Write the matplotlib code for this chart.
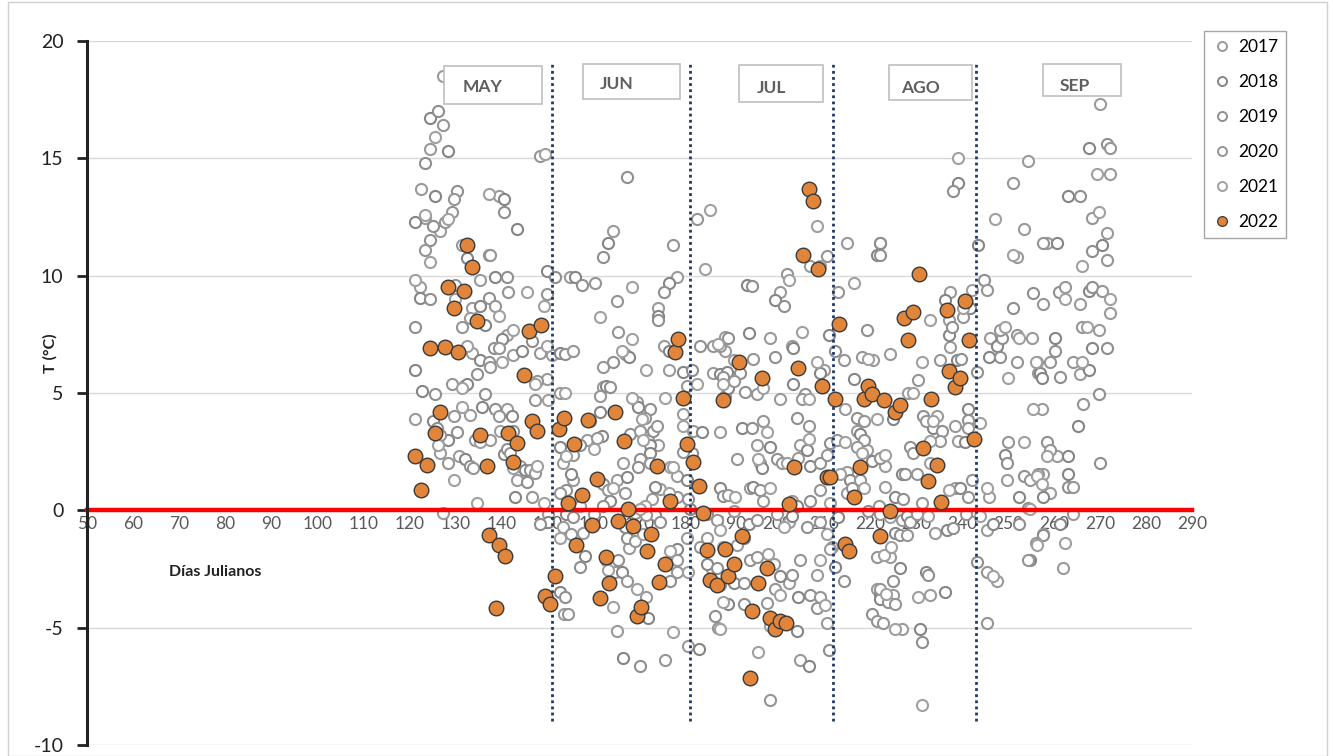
import matplotlib
matplotlib.use("Agg")
import matplotlib.pyplot as plt
from matplotlib.lines import Line2D
from matplotlib.patches import Rectangle

plt.rcParams["font.family"] = ["Lato", "DejaVu Sans"]
plt.rcParams["axes.unicode_minus"] = False

# Earlier years (2017-2021): all drawn as hollow grey circles
gray_years = ["2017", "2018", "2019", "2020", "2021"]
gray_day = [
    127.4, 124.5, 126.3, 127.4, 125.6, 124.4, 128.5, 123.4, 148.4, 149.5, 122.5, 125.6, 130.3, 129.6,
    137.2, 139.4, 140.5, 140.5, 129.2, 123.4, 123.4, 121.3, 125.2, 127.8, 128.5, 126.7, 143.4, 124.5,
    123.4, 124.5, 131.4, 132.5, 137.2, 137.6, 121.3, 122.3, 122.3, 124.5, 130.0, 130.0, 135.4, 138.7,
    141.2, 141.5, 145.5, 133.6, 135.4, 137.2, 138.7, 139.4, 133.2, 136.5, 121.3, 131.4, 142.6, 141.2,
    140.1, 138.3, 139.4, 132.5, 133.6, 135.4, 137.2, 137.6, 140.1, 142.6, 144.4, 146.6, 148.4, 149.9,
    151.0, 121.3, 134.7, 147.7, 147.3, 149.9, 122.7, 125.6, 129.2, 131.4, 131.8, 132.5, 136.5, 147.3,
    150.2, 121.3, 125.2, 126.0, 126.7, 126.3, 126.7, 128.5, 130.3, 129.6, 131.4, 133.2, 135.7, 138.7,
    139.4, 139.7, 141.2, 142.3, 142.6, 134.3, 135.4, 137.6, 140.5, 141.2, 141.9, 142.6, 144.1, 145.2,
    146.3, 147.3, 147.7, 143.4, 143.0, 145.5, 146.6, 149.2, 150.2, 150.2, 148.4, 128.5, 129.6, 130.7,
    132.1, 133.2, 133.9, 134.7, 127.4, 149.9, 151.7, 149.9, 149.2, 153.5, 152.8,
    167.2, 182.4, 185.3, 164.3, 163.2, 162.1, 177.3, 184.2, 154.9, 156.0, 157.4, 160.3, 168.3, 178.1,
    176.3, 175.2, 165.0, 161.4, 174.1, 174.1, 174.1, 165.4, 168.3, 175.2, 176.3, 183.1, 186.0, 187.1,
    188.6, 152.7, 153.8, 155.6, 166.1, 166.8, 167.6, 164.3, 162.1, 171.5, 176.3, 179.5, 181.3, 180.2,
    182.4, 186.0, 187.5, 188.2, 152.7, 153.8, 162.1, 162.8, 163.6, 161.4, 168.3, 169.4, 169.7, 172.3,
    171.2, 175.5, 179.5, 161.4, 159.2, 160.7, 160.0, 158.5, 161.8, 157.0, 155.6, 154.1, 153.4, 152.7,
    167.9, 170.1, 170.8, 171.9, 172.3, 173.0, 173.7, 170.5, 174.1, 172.3, 170.1, 172.3, 176.6, 166.5,
    167.2, 169.7, 166.8, 179.5, 181.7, 183.5, 181.3, 179.5, 177.3, 178.1, 180.2, 180.6, 178.1, 176.3,
    174.4, 173.4, 162.1, 163.2, 164.3, 165.0, 163.6, 162.1, 160.0, 157.0, 155.6, 155.2, 154.1, 152.7,
    171.2, 172.6, 173.4, 174.4, 171.5, 170.1, 169.0, 181.0, 184.6, 186.8, 187.5, 180.2, 178.1, 177.3,
    178.1, 180.6, 153.4, 154.1, 155.6, 155.2, 152.7, 157.8, 158.1, 157.0, 162.8, 163.2, 164.7, 166.1,
    153.8, 154.5, 164.3, 165.0, 166.5, 170.1, 175.5, 177.3, 180.6, 182.8, 186.4, 187.1, 188.2, 185.7,
    166.8, 167.2, 169.0, 170.8, 167.6, 169.4, 165.4, 167.2, 169.4, 171.5, 171.9, 176.6, 178.1, 176.6,
    184.6, 184.6, 186.8, 183.1,
    208.5, 215.0, 221.6, 222.3, 210.7, 209.2, 207.1, 193.3, 194.4, 202.0, 202.4, 200.5, 199.5, 201.3,
    213.2, 216.5, 198.4, 193.7, 189.3, 187.5, 205.3, 203.1, 203.4, 199.5, 194.7, 190.4, 188.6, 211.1,
    212.5, 214.3, 208.5, 210.0, 209.2, 219.4, 218.3, 219.7, 220.8, 189.0, 191.8, 190.4, 188.2, 188.6,
    189.3, 192.9, 195.5, 196.9, 200.5, 203.4, 206.0, 205.3, 206.7, 214.7, 216.5, 217.2, 218.7, 221.6,
    187.5, 192.2, 194.4, 196.9, 197.6, 195.5, 198.4, 204.2, 206.7, 206.7, 204.9, 206.3, 211.4, 212.9,
    214.7, 217.2, 217.9, 218.7, 217.2, 218.3, 219.4, 220.5, 222.3, 191.1, 195.8, 196.2, 196.6, 199.8,
    200.9, 202.0, 204.5, 207.1, 209.2, 210.7, 213.6, 215.0, 215.8, 216.1, 217.9, 218.7, 215.0, 187.5,
    188.2, 189.3, 190.8, 194.0, 194.7, 196.2, 196.9, 198.4, 203.1, 204.2, 207.1, 209.2, 211.4, 190.4,
    193.7, 195.5, 199.8, 201.3, 202.4, 203.1, 206.3, 209.2, 210.7, 211.8, 213.2, 219.7, 221.9, 188.2,
    191.1, 192.6, 194.0, 195.5, 198.0, 199.1, 200.5, 203.1, 204.9, 209.2, 211.4, 212.5, 214.3, 221.6,
    223.0, 187.5, 190.4, 192.6, 199.5, 200.5, 202.4, 204.5, 207.1, 209.2, 210.3, 208.5, 189.3, 192.6,
    197.6, 187.5, 210.7, 204.2, 208.5, 194.7, 198.4, 221.6, 222.3, 220.5, 221.6, 195.8, 204.9, 206.7,
    211.1, 198.4,
    239.2, 254.4, 239.2, 238.1, 251.2, 247.2, 253.4, 222.2, 222.2, 257.7, 251.2, 251.9, 243.6, 244.7,
    245.4, 242.1, 237.4, 236.3, 255.5, 257.7, 233.1, 237.1, 237.1, 237.8, 240.3, 240.3, 237.4, 238.9,
    239.9, 235.2, 231.3, 224.4, 241.8, 251.2, 248.3, 249.4, 246.1, 247.6, 248.7, 251.9, 252.3, 255.2,
    245.8, 248.3, 251.9, 250.1, 256.3, 257.0, 243.2, 230.5, 229.4, 228.4, 225.1, 231.6, 232.3, 233.8,
    234.5, 233.8, 235.6, 235.2, 233.1, 238.5, 241.4, 241.4, 241.4, 243.9, 239.2, 240.7, 228.7, 229.4,
    223.3, 223.3, 226.9, 227.6, 230.2, 233.1, 223.3, 225.5, 227.3, 231.3, 237.1, 238.5, 239.6, 241.4,
    242.1, 245.4, 245.8, 249.4, 249.7, 250.1, 253.4, 249.7, 252.3, 253.4, 254.8, 256.3, 257.7, 257.7,
    254.4, 222.2, 224.4, 226.9, 228.0, 228.7, 230.2, 232.7, 234.2, 236.7, 238.1, 241.0, 243.9, 245.4,
    246.8, 252.3, 254.4, 256.3, 257.7, 225.5, 226.5, 228.0, 224.7, 224.4, 226.5, 243.2, 245.4, 246.8,
    247.6, 232.3, 232.7, 222.2, 223.6, 225.1, 222.2, 224.0, 225.5, 230.5, 233.1, 236.3, 225.1, 222.9,
    225.5, 226.9, 230.9, 231.3, 245.4, 231.3,
    270.0, 267.5, 271.5, 272.2, 269.3, 272.2, 263.1, 265.7, 268.2, 269.7, 271.5, 270.4, 268.2, 271.5,
    266.0, 258.4, 260.6, 261.0, 262.4, 262.4, 265.7, 267.5, 268.2, 270.4, 272.2, 272.2, 260.2, 260.2,
    266.0, 267.1, 269.7, 268.2, 271.5, 259.1, 256.2, 256.6, 257.3, 261.3, 264.2, 266.0, 265.7, 267.5,
    269.7, 266.4, 255.5, 257.3, 265.3, 258.4, 259.1, 258.4, 260.6, 263.1, 270.0, 256.6, 257.3, 259.1,
    263.1, 263.1, 264.2, 254.8, 264.2, 261.3, 257.7, 256.2, 262.4, 262.0, 254.8,
]
gray_temp = [
    18.5, 16.7, 17.0, 16.4, 15.9, 15.4, 15.3, 14.8, 15.1, 15.2, 13.7, 13.4, 13.6, 13.25,
    13.5, 13.4, 13.25, 12.7, 12.7, 12.6, 12.45, 12.3, 12.1, 12.3, 12.4, 11.9, 12.0, 11.5,
    11.1, 10.6, 11.3, 10.75, 10.9, 10.9, 9.8, 9.5, 9.05, 9.0, 9.6, 9.0, 9.8, 9.95,
    9.95, 9.3, 9.3, 8.6, 8.7, 9.05, 8.7, 8.3, 8.2, 7.9, 7.8, 7.8, 7.7, 7.45,
    7.3, 6.9, 6.9, 7.0, 6.7, 6.4, 6.3, 6.1, 6.3, 6.6, 6.8, 7.2, 6.7, 7.0,
    6.6, 6.0, 5.8, 5.5, 5.4, 5.6, 5.1, 4.95, 5.4, 5.2, 5.3, 5.4, 4.95, 4.7,
    4.7, 3.9, 3.8, 3.5, 3.2, 2.8, 2.45, 3.0, 3.35, 4.0, 4.4, 4.05, 4.4, 4.3,
    4.0, 3.4, 4.3, 4.0, 3.4, 3.0, 2.9, 3.0, 2.4, 2.6, 2.45, 1.8, 1.9, 1.7,
    1.7, 1.6, 1.9, 1.3, 0.55, 1.2, 0.55, 0.3, -0.15, -0.5, -0.6, 2.0, 1.3, 2.3,
    2.2, 1.9, 1.8, 0.3, -0.1, 10.2, 9.95, 9.2, 8.7, -4.4, -3.5,
    14.2, 12.4, 12.8, 11.9, 11.4, 10.8, 11.3, 10.3, 9.95, 9.95, 9.6, 9.7, 9.5, 9.95,
    9.7, 9.3, 8.9, 8.25, 8.6, 8.3, 8.1, 7.6, 7.3, 7.0, 6.8, 7.0, 7.0, 7.1,
    7.4, 6.7, 6.65, 6.8, 6.8, 6.65, 6.55, 6.3, 6.1, 6.0, 6.0, 5.9, 6.0, 5.3,
    5.4, 5.85, 5.8, 5.7, 5.0, 5.0, 5.25, 5.3, 5.25, 4.85, 4.8, 4.6, 4.4, 4.3,
    3.95, 4.8, 4.1, 4.2, 3.8, 3.1, 2.6, 3.0, 3.15, 2.8, 2.35, 2.3, 2.0, 2.7,
    3.25, 3.4, 3.0, 3.0, 2.8, 3.4, 3.6, 3.9, 2.8, 2.45, 2.2, 2.0, 1.85, 2.0,
    1.4, 1.85, 0.75, 3.6, 3.4, 3.35, 2.45, 2.5, 1.85, 1.45, 1.3, 0.5, 0.55, 0.75,
    0.9, 1.0, 1.1, 0.85, 0.95, 1.3, 0.4, 0.2, -0.15, 0.2, 1.3, 1.55, 0.85, 0.75,
    0.2, 0.5, -0.2, -0.5, -0.2, 0.05, -0.1, 0.05, -0.15, -0.4, -0.85, -1.2, -1.65, -2.3,
    -2.65, -2.65, -0.7, -0.15, -0.3, -1.0, -1.2, -0.95, -1.95, -2.4, -2.1, -2.55, -2.65, -2.65,
    -3.7, -4.4, -4.1, -5.15, -6.3, -6.65, -6.4, -5.2, -5.8, -5.9, -4.5, -5.0, -3.9, -2.5,
    -0.7, -1.2, -1.3, -1.0, -1.6, -1.0, -2.1, -3.0, -3.35, -3.7, -4.6, -3.0, -2.1, -1.75,
    -1.2, -2.3, -2.45, -1.55,
    12.1, 11.4, 10.9, 11.4, 10.85, 10.4, 10.4, 9.6, 9.55, 10.05, 9.8, 9.3, 8.95, 8.7,
    9.3, 9.7, 7.35, 7.55, 7.35, 7.0, 7.6, 7.0, 6.9, 6.55, 6.45, 6.4, 6.8, 7.45,
    6.8, 6.4, 6.3, 6.0, 5.85, 7.7, 6.55, 6.45, 6.4, 5.9, 5.85, 5.5, 5.4, 4.85,
    5.2, 5.05, 4.95, 5.2, 4.75, 5.4, 4.95, 4.75, 4.75, 4.3, 5.6, 3.95, 3.8, 3.9,
    3.35, 3.5, 3.5, 3.8, 3.35, 2.8, 2.7, 3.95, 3.6, 3.05, 2.8, 2.55, 2.85, 3.0,
    2.9, 3.4, 3.25, 3.0, 2.7, 2.45, 2.55, 2.1, 2.25, 2.2, 2.2, 2.0, 1.8, 2.2,
    2.0, 2.0, 2.25, 1.9, 2.0, 2.35, 1.55, 1.65, 1.3, 0.95, 1.3, 0.95, 0.75, 0.95,
    0.6, 0.65, 0.55, 0.95, 1.0, 0.85, 0.4, 0.95, 0.4, 0.2, 0.4, 0.85, 0.3, -0.05,
    -0.6, -0.4, -0.15, -0.7, -0.5, -0.25, -0.7, -0.5, -1.0, -1.55, -0.3, -0.05, 0.2, -1.55,
    -1.5, -1.2, -2.1, -2.0, -1.85, -2.3, -2.8, -2.75, -2.1, -2.1, -1.65, -2.4, -3.0, -2.0,
    -1.9, -3.2, -3.1, -3.1, -3.35, -3.6, -3.1, -3.7, -3.6, -3.7, -4.05, -2.75, -4.0, -4.0,
    -3.95, -5.05, -4.8, -5.15, -4.15, -4.25, -4.95, -3.35, -3.55, -4.4, -4.7, -6.05, -6.4, -6.65,
    -5.95, -8.1,
    15.0, 14.9, 13.95, 13.6, 13.95, 12.4, 12.0, 11.4, 10.9, 11.4, 10.9, 10.8, 11.3, 9.8,
    9.4, 9.4, 9.3, 8.95, 9.25, 8.8, 8.1, 8.1, 7.45, 7.8, 8.25, 8.6, 6.95, 6.4,
    6.45, 6.4, 6.3, 6.65, 8.6, 8.6, 7.7, 7.8, 7.35, 7.0, 7.35, 7.45, 7.35, 7.35,
    6.55, 6.55, 6.3, 5.65, 6.3, 5.85, 5.9, 5.55, 5.0, 5.0, 3.9, 4.0, 3.8, 3.8,
    4.0, 3.5, 3.4, 2.95, 2.95, 3.6, 4.3, 3.85, 3.5, 3.7, 2.95, 2.9, 2.7, 2.45,
    2.35, 1.9, 1.55, 1.55, 1.55, 2.0, 1.0, 0.55, 0.5, 0.3, 0.85, 0.95, 0.95, 0.55,
    1.3, 0.95, 0.55, 2.35, 2.0, 2.9, 2.9, 1.3, 0.55, 1.45, 1.3, 1.45, 1.55, 0.55,
    0.1, -0.15, -0.3, -0.4, -0.25, -0.5, -0.15, -0.25, -0.95, -0.85, -0.75, -0.15, -0.25, -0.85,
    -0.6, -0.6, -2.1, -1.5, -1.0, -0.95, -1.05, -1.05, -1.55, -2.0, -2.45, -2.2, -2.65, -2.8,
    -3.0, -2.65, -2.75, -3.35, -3.55, -3.6, -3.8, -3.9, -4.0, -3.7, -3.6, -3.5, -3.0, -4.8,
    -5.05, -5.05, -5.05, -5.6, -4.8, -8.3,
    17.3, 15.45, 15.6, 15.45, 14.35, 14.35, 13.4, 13.4, 12.45, 12.7, 11.8, 11.3, 11.05, 10.65,
    10.4, 11.4, 11.4, 9.3, 9.5, 9.0, 8.8, 9.35, 9.5, 9.35, 9.0, 8.4, 7.35, 6.8,
    7.8, 7.8, 7.7, 6.9, 6.9, 6.3, 6.3, 5.85, 5.65, 5.7, 6.3, 6.3, 5.8, 6.0,
    4.95, 4.55, 4.3, 4.3, 3.6, 2.9, 2.55, 2.3, 2.3, 2.3, 2.0, 1.55, 1.1, 0.75,
    1.55, 1.0, 1.0, 0.05, -0.15, -0.6, -1.05, -1.4, -1.4, -2.45, -2.1,
]

# 2022
day_2022 = [
    121.3, 122.5, 123.8, 124.5, 125.6, 126.6, 127.8, 128.5, 129.6, 130.5, 131.8, 132.5, 133.6, 134.8,
    135.4, 136.8, 137.2, 138.8, 139.5, 140.8, 141.5, 142.6, 143.4, 144.8, 145.9, 146.6, 147.7, 148.6,
    149.5, 150.6, 151.7, 152.4, 153.5, 154.4, 155.7, 156.3, 157.6, 158.7, 159.6, 160.7, 161.4, 162.7,
    163.4, 164.7, 165.4, 166.6, 167.4, 168.5, 169.5, 170.3, 171.7, 172.4, 173.7, 174.3, 175.5, 176.5,
    177.7, 178.4, 179.5, 180.4, 181.5, 182.8, 183.7, 184.7, 185.4, 186.9, 188.2, 188.6, 189.3, 190.4,
    191.5, 192.2, 193.9, 194.4, 195.8, 196.6, 197.6, 198.4, 199.5, 200.5, 201.8, 202.4, 203.6, 204.4,
    205.6, 206.7, 207.6, 208.7, 209.6, 210.7, 211.4, 212.5, 213.4, 214.7, 215.4, 216.5, 217.8, 218.7,
    219.7, 220.5, 222.2, 223.1, 224.4, 225.5, 226.5, 227.4, 228.4, 229.4, 230.7, 231.5, 232.7, 233.4,
    234.7, 235.4, 236.7, 237.3, 238.5, 239.5, 240.7, 241.6, 242.6,
]
temp_2022 = [
    2.3, 0.85, 1.95, 6.9, 3.3, 4.2, 6.95, 9.5, 8.6, 6.75, 9.35, 11.3, 10.35, 8.05,
    3.2, 1.9, -1.05, -4.15, -1.5, -1.95, 3.3, 2.05, 2.85, 5.75, 7.65, 3.8, 3.4, 7.9,
    -3.65, -4.0, -2.8, 3.45, 3.95, 0.3, 2.84, -1.5, 0.66, 3.84, -0.64, 1.32, -3.72, -2.0,
    -3.1, 4.18, -0.46, 2.95, 0.07, -0.68, -4.5, -4.1, -1.75, -1.0, 1.9, -3.05, -2.3, 0.39,
    6.74, 7.3, 4.77, 2.84, 2.04, 1.05, -0.1, -1.7, -2.95, -3.2, 4.7, -1.65, -2.8, -2.3,
    6.3, -1.1, -7.15, -4.3, -3.1, 5.65, -2.45, -4.6, -5.05, -4.7, -4.8, 0.25, 1.85, 6.05,
    10.9, 13.7, 13.2, 10.3, 5.3, 1.4, 1.4, 4.75, 7.95, -1.45, -1.75, 0.55, 1.85, 4.75,
    5.3, 4.95, -1.1, 4.68, -0.05, 4.2, 4.5, 8.2, 7.25, 8.45, 10.05, 2.65, 1.25, 4.75,
    1.95, 0.35, 8.55, 5.95, 5.25, 5.65, 8.9, 7.25, 3.05,
]

month_names = ["MAY", "JUN", "JUL", "AGO", "SEP"]
month_ends = [151, 181, 212, 243]

gray_edges = ["#9a9a9a", "#858585", "#8f8f8f", "#959595", "#a0a0a0"]
orange = "#E0853A"

fig = plt.figure(figsize=(13.33, 7.56), dpi=100)
ax = fig.add_axes([0.0653, 0.0146, 0.8290, 0.9312])

# Plot earlier years (hollow grey) and 2022 (orange)
for k, year in enumerate(gray_years):
    ax.scatter(gray_day[k::5], gray_temp[k::5], s=64, facecolors="white",
               edgecolors=gray_edges[k], linewidths=1.5, zorder=1)
ax.scatter(day_2022, temp_2022, s=110, facecolors=orange, edgecolors="#3a3a3a",
           linewidths=1.0, zorder=4)

# Month boundaries
for d in month_ends:
    ax.plot([d, d], [-9, 19], color="#1F3864", linestyle=(0, (1, 1.2)),
            linewidth=2.0, zorder=3)

# Month labels in boxes: (x0, x1, y0, y1, text x, text y)
boxes = [
    (127.5, 148.8, 17.30, 18.92, 136.0, 18.02),
    (157.8, 178.8, 17.51, 19.00, 165.1, 18.15),
    (191.6, 209.9, 17.38, 18.96, 198.6, 17.98),
    (224.2, 242.2, 17.47, 18.96, 231.1, 17.98),
    (257.6, 274.6, 17.64, 19.00, 264.6, 18.07),
]
for name, (x0, x1, y0, y1, tx, ty) in zip(month_names, boxes):
    ax.add_patch(Rectangle((x0, y0), x1 - x0, y1 - y0, facecolor="white",
                           edgecolor="#bfbfbf", linewidth=1.2, zorder=5))
    ax.text(tx, ty, name, ha="center", va="center", fontsize=12.5,
            fontweight="bold", color="#5f5f5f", zorder=6)

ax.set_xlim(50, 290)
ax.set_ylim(-10, 20)
ax.set_xticks(range(50, 291, 10))
ax.set_yticks(range(-10, 21, 5))
ax.grid(axis="y", color="#d9d9d9", linewidth=1.0)
ax.set_axisbelow(True)

for side in ["top", "right"]:
    ax.spines[side].set_visible(False)
ax.spines["left"].set_linewidth(2.2)
ax.spines["left"].set_color("#222222")
ax.spines["bottom"].set_position(("data", 0))
ax.spines["bottom"].set_color("#ff0000")
ax.spines["bottom"].set_linewidth(3.2)
ax.spines["bottom"].set_zorder(2)

ax.tick_params(axis="y", direction="out", length=7, width=2, color="#222222",
               labelsize=14, pad=10, labelcolor="#222222")
ax.tick_params(axis="x", length=0, labelsize=12.5, pad=4, labelcolor="#595959")

ax.text(77.8, -2.65, "Días Julianos", ha="center", va="center", fontsize=11.5,
        fontweight="bold", color="#222222")
fig.text(50 / 1333, 1 - 353 / 756, "T (°C)", rotation=90, ha="center", va="center",
         fontsize=11.5, fontweight="bold", color="#222222")

# Legend
handles = [Line2D([], [], linestyle="none", marker="o", markersize=6.5,
                  markerfacecolor="white", markeredgecolor=gray_edges[k],
                  markeredgewidth=1.4) for k in range(len(gray_years))]
handles.append(Line2D([], [], linestyle="none", marker="o", markersize=7,
                      markerfacecolor=orange, markeredgecolor="#3a3a3a",
                      markeredgewidth=0.9))
leg = fig.legend(handles, gray_years + ["2022"], loc="upper left",
                 bbox_to_anchor=(1204 / 1333, 1 - 31 / 756), borderaxespad=0,
                 fontsize=12.5, labelspacing=1.1, handletextpad=0.3,
                 handlelength=1.2, borderpad=0.45, fancybox=False,
                 edgecolor="#a6a6a6", framealpha=1)
leg.get_frame().set_linewidth(1.0)

# Chart border
fig.add_artist(Rectangle((8 / 1333, 0.0), 1319 / 1333, 0.998, transform=fig.transFigure,
                         fill=False, edgecolor="#d0d0d0", linewidth=1.0))

fig.savefig("out.png", dpi=100)
